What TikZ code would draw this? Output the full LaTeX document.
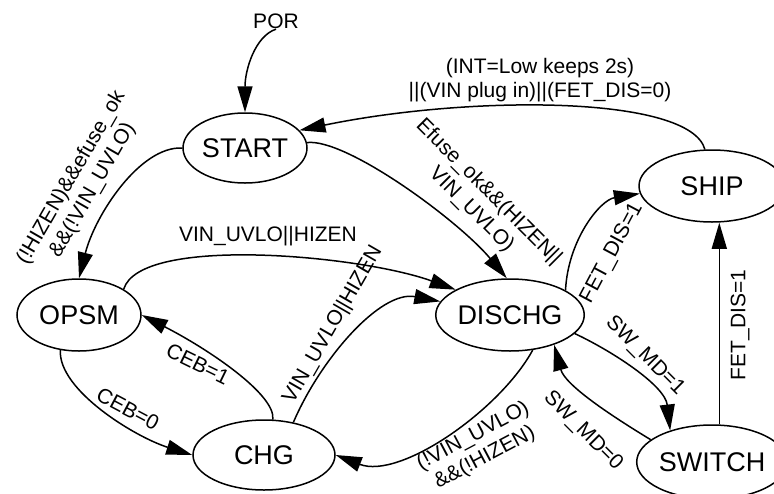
\documentclass[tikz,border=0pt]{standalone}
\usepackage{fontspec}
\setmainfont{Liberation Sans}
\usetikzlibrary{shapes.geometric,arrows.meta}

\begin{document}
\begin{tikzpicture}[
      x=1pt, y=-1pt,
      line width=1.5pt,
      state/.style = {shape=ellipse, draw, inner sep=0pt,
        font=\fontsize{27}{30}\selectfont},
      cond/.style = {align=center, inner sep=0pt,
        font=\fontsize{21}{24.5}\selectfont},
      edge/.style = {-{Triangle[length=26pt,width=15pt]}}
    ]
      \useasboundingbox (0,0) rectangle (774,493);

      \node[state, minimum width=124pt, minimum height=70pt] (start)  at (245,148) {START};
      \node[state, minimum width=124pt, minimum height=72pt] (opsm)   at (79,315)  {OPSM};
      \node[state, minimum width=142pt, minimum height=70pt] (chg)    at (264,455) {CHG};
      \node[state, minimum width=144pt, minimum height=72pt] (dischg) at (510,315) {DISCHG};
      \node[state, minimum width=146pt, minimum height=72pt] (ship)   at (712,186) {SHIP};
      \node[state, minimum width=146pt, minimum height=74pt] (switch) at (712,462) {SWITCH};

      \node[cond] (por) at (276,21) {POR};

      \draw[edge] (por.south) .. controls (255,36) and (245,70) .. (start.north);
      \draw[edge] (start.west) .. controls (140,146) and (95,215) .. (opsm.north);
      \draw[edge] (start.5) .. controls (346,138) and (458,220) .. (dischg.95);
      \draw[edge] (ship.101) .. controls (690,95) and (470,95) .. (start.18);
      \draw[edge] (opsm.30) .. controls (140,235) and (360,255) .. (dischg.155);
      \draw[edge] (chg.48) .. controls (320,360) and (380,290) .. (dischg.169);
      \draw[edge] (opsm.-118) .. controls (58,390) and (135,437) .. (chg.west);
      \draw[edge] (chg.76) .. controls (276,395) and (210,350) .. (opsm.east);
      \draw[edge] (dischg.-57) .. controls (500,410) and (400,480) .. (chg.east);
      \draw[edge] (dischg.24) .. controls (568,240) and (600,200) .. (ship.186);
      \draw[edge] (dischg.-16) .. controls (610,350) and (665,385) .. (switch.143);
      \draw[edge] (switch.160) .. controls (610,415) and (565,385) .. (dischg.-34);
      \draw[edge] (switch.79) -- (switch.79 |- ship.south);

      \node[cond, rotate=60]  (lhizen) at (82,184)  {(!HIZEN)\&\&efuse\_ok\\\&\&(!VIN\_UVLO)};
      \node[cond, rotate=-45] (lefuse) at (480,201) {Efuse\_ok\&\&(HIZEN||\\VIN\_UVLO)};
      \node[cond]             (lint)   at (540,80)  {(INT=Low keeps 2s)\\||(VIN plug in)||(FET\_DIS=0)};
      \node[cond]             (luvlo)  at (268,236) {VIN\_UVLO||HIZEN};
      \node[cond, rotate=60]  (lchgup) at (333,325) {VIN\_UVLO||HIZEN};
      \node[cond, rotate=-28] (lceb0)  at (128,409) {CEB=0};
      \node[cond, rotate=-26] (lceb1)  at (198,364) {CEB=1};
      \node[cond, rotate=28]  (lchgdn) at (479,447) {(!VIN\_UVLO)\\\&\&(!HIZEN)};
      \node[cond, rotate=62]  (lfet)   at (612,253) {FET\_DIS=1};
      \node[cond, rotate=-45] (lmd1)   at (645,356) {SW\_MD=1};
      \node[cond, rotate=-45] (lmd0)   at (583,431) {SW\_MD=0};
      \node[cond, rotate=90]  (lfetup) at (740,325) {FET\_DIS=1};
  \end{tikzpicture}
\end{document}
